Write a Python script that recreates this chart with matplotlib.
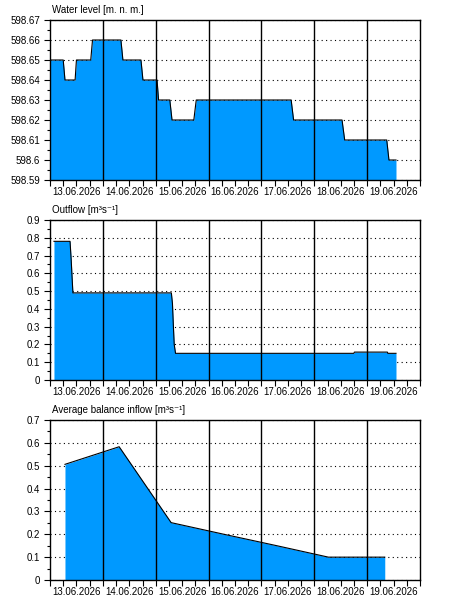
import numpy as np
import matplotlib
matplotlib.use("Agg")
from matplotlib import pyplot as plt
import matplotlib.dates as mdates
from matplotlib.ticker import MultipleLocator

start = np.datetime64("2026-06-13T00:00")

# hours since 13.06.2026 00:00
wl_t = [0, 6.0, 6.8, 11.4, 12.0, 18.5, 19.3, 32.2, 33.1, 41.3, 42.2, 48.6, 49.3,
        54.4, 55.4, 65.3, 66.4, 109.5, 110.6, 132.6, 133.8, 152.9, 153.9, 157.1]
wl_v = [598.65, 598.65, 598.64, 598.64, 598.65, 598.65, 598.66, 598.66, 598.65,
        598.65, 598.64, 598.64, 598.63, 598.63, 598.62, 598.62, 598.63, 598.63,
        598.62, 598.62, 598.61, 598.61, 598.60, 598.60]

of_t = [1.8, 9.1, 9.6, 10.1, 10.4, 55.1, 55.6, 56.0, 56.4, 57.0, 138.0, 138.2,
        153.2, 153.4, 157.1]
of_v = [0.78, 0.78, 0.68, 0.56, 0.49, 0.49, 0.43, 0.31, 0.20, 0.15, 0.15, 0.157,
        0.157, 0.15, 0.15]

bi_t = [6.8, 31.4, 55.0, 79.0, 103.0, 126.4, 152.0]
bi_v = [0.506, 0.583, 0.251, 0.200, 0.150, 0.100, 0.100]

days = ["13.06.2026", "14.06.2026", "15.06.2026", "16.06.2026",
        "17.06.2026", "18.06.2026", "19.06.2026"]

panels = [
    ("Water level [m. n. m.]", wl_t, wl_v, (598.59, 598.67), 0.01, 0.005),
    ("Outflow [m³s⁻¹]", of_t, of_v, (0, 0.9), 0.1, 0.05),
    ("Average balance inflow [m³s⁻¹]", bi_t, bi_v, (0, 0.7), 0.1, 0.05),
]

plt.rcParams['font.family'] = ['Liberation Sans', 'DejaVu Sans']
plt.rcParams['font.size'] = 7

fig = plt.figure(figsize=(4.5, 6.1), dpi=100)
bottoms = [1 - 180/610, 1 - 380/610, 1 - 580/610]

def to_dt(h):
    return start + (np.array(h) * 60).astype("timedelta64[m]")

for (title, t, v, ylim, major, minor), b in zip(panels, bottoms):
    ax = fig.add_axes([50/450, b, 370/450, 160/610])
    x = mdates.date2num(to_dt(t))
    ax.fill_between(x, v, ylim[0], color="#0099ff", lw=0, zorder=2)
    ax.plot(x, v, color="black", lw=0.8, zorder=3)

    x0 = mdates.date2num(start)
    ax.set_xlim(x0, x0 + 7)
    ax.set_ylim(*ylim)

    # midnight lines on top, dotted horizontal grid below
    for d in range(1, 7):
        ax.axvline(x0 + d, color="black", lw=1, zorder=4)
    ax.yaxis.set_major_locator(MultipleLocator(major))
    ax.yaxis.set_minor_locator(MultipleLocator(minor))
    ax.grid(axis="y", which="major", color="black", ls=(0, (1, 3)), lw=0.8, zorder=1)
    ax.set_axisbelow(True)

    ax.xaxis.remove_overlapping_locs = False
    ax.set_xticks(x0 + np.arange(0, 7.01, 0.25))
    ax.set_xticklabels([])
    ax.set_xticks(x0 + np.arange(7) + 0.5, minor=True)
    ax.set_xticklabels(days, minor=True)
    ax.tick_params(axis="x", which="major", length=4, width=0.8, direction="out")
    ax.tick_params(axis="x", which="minor", length=0, pad=5)
    ax.tick_params(axis="y", which="major", length=4, width=0.8, pad=3)
    ax.tick_params(axis="y", which="minor", length=2, width=0.8)
    ax.yaxis.set_major_formatter(plt.FuncFormatter(lambda val, p: f"{val:.2f}".rstrip("0").rstrip(".")))
    for s in ax.spines.values():
        s.set_linewidth(1)
        s.set_zorder(5)
    ax.text(0.005, 1.03, title, transform=ax.transAxes, ha="left", va="bottom")

fig.savefig("out.png")
